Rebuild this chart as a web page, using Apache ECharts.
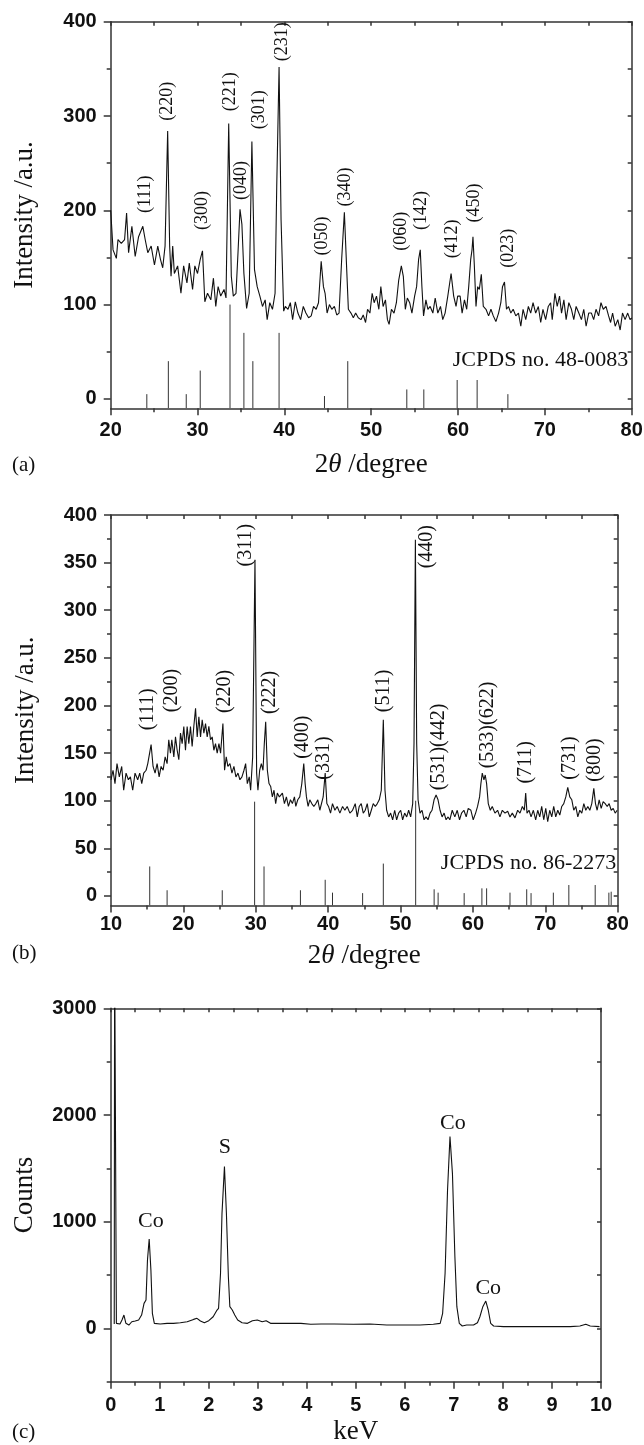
<!DOCTYPE html>
<html><head><meta charset="utf-8">
<script src="https://cdn.jsdelivr.net/npm/echarts@6/dist/echarts.min.js"></script>
<style>html,body{margin:0;padding:0;background:#fff}#c{width:644px;height:1445px}</style>
</head><body><div id="c"></div><script>
// ---------- Panel (a): XRD pattern, 2theta vs intensity ----------
const xrdA = [[20.00,200],[20.27,158],[20.65,149],[20.84,169],[21.22,165],[21.60,169],[21.83,197],[22.06,155],[22.44,183],[22.82,151],[23.21,172],[23.70,183],[23.97,169],[24.27,155],[24.66,162],[25.04,142],[25.42,162],[25.73,148],[25.99,139],[26.26,162],[26.56,284],[26.79,162],[26.95,130],[27.14,162],[27.33,133],[27.71,141],[28.09,112],[28.40,141],[28.78,123],[29.05,144],[29.43,116],[29.69,141],[30.00,133],[30.31,148],[30.57,157],[30.84,103],[31.15,112],[31.53,105],[31.83,128],[32.10,98],[32.37,119],[32.67,109],[33.05,116],[33.28,107],[33.59,292],[33.89,130],[34.12,109],[34.43,112],[34.66,155],[34.89,201],[35.11,185],[35.34,133],[35.65,96],[35.95,112],[36.26,273],[36.56,137],[36.87,119],[37.18,109],[37.48,98],[37.79,105],[38.02,84],[38.32,102],[38.63,95],[38.93,112],[39.12,225],[39.39,352],[39.62,190],[39.92,93],
[40.11,98],[40.42,95],[40.69,102],[40.95,84],[41.26,103],[41.56,91],[41.87,84],[42.18,98],[42.48,91],[42.79,86],[43.09,88],[43.36,98],[43.66,95],[43.93,102],[44.24,146],[44.50,119],[44.69,112],[44.92,91],[45.19,100],[45.46,95],[45.76,98],[46.03,89],[46.30,91],[46.60,148],[46.91,198],[47.18,137],[47.37,95],[47.67,91],[47.94,86],[48.21,91],[48.51,86],[48.82,84],[49.08,89],[49.35,81],[49.58,95],[49.85,91],[50.11,112],[50.34,102],[50.61,109],[50.88,95],[51.11,119],[51.37,98],[51.64,105],[51.87,84],[52.06,79],[52.33,95],[52.63,91],[52.90,102],[53.17,126],[53.47,141],[53.70,130],[53.93,95],[54.16,107],[54.43,102],[54.69,91],[55.00,109],[55.23,119],[55.46,148],[55.65,158],[55.84,119],[56.03,88],[56.30,105],[56.53,95],[56.79,98],[57.10,91],[57.37,107],[57.67,91],[57.98,98],[58.24,84],[58.51,91],[58.82,109],[59.20,133],[59.50,109],[59.77,98],[59.96,109],
[60.24,109],[60.47,91],[60.74,105],[61.00,95],[61.23,119],[61.46,148],[61.61,158],[61.72,172],[61.88,141],[62.07,98],[62.26,119],[62.45,116],[62.68,132],[62.91,98],[63.22,95],[63.52,88],[63.79,95],[64.06,88],[64.36,82],[64.67,91],[64.93,102],[65.12,119],[65.35,124],[65.58,95],[65.81,98],[66.08,91],[66.35,95],[66.65,88],[66.96,91],[67.23,77],[67.49,95],[67.80,84],[68.10,98],[68.37,91],[68.64,102],[68.94,91],[69.25,98],[69.52,81],[69.78,95],[70.09,84],[70.39,98],[70.66,102],[70.85,84],[71.16,112],[71.42,98],[71.69,109],[71.92,91],[72.19,105],[72.45,84],[72.76,102],[73.06,95],[73.33,84],[73.60,98],[73.91,91],[74.21,84],[74.48,95],[74.75,77],[75.05,91],[75.36,91],[75.62,84],[75.89,95],[76.19,88],[76.46,102],[76.73,95],[77.04,98],[77.34,88],[77.57,81],[77.80,91],[78.10,77],[78.40,84],[78.67,73],[78.94,91],[79.24,84],[79.54,91],[79.81,84],[80.00,86]];
const sticksA = [[24.16,5],[26.64,40],[28.70,5],[30.31,30],[33.74,100],[35.34,70],[36.37,40],[39.39,70],[44.62,3],[47.30,40],[54.10,10],[56.06,10],[59.90,20],[62.20,20],[65.74,5]];
const peaksA = [['(111)',24.03,197],['(220)',26.57,295],['(300)',30.55,179],['(221)',33.82,305],['(040)',35.09,211],['(301)',37.12,286],['(231)',39.81,358],['(050)',44.42,152],['(340)',46.99,204],['(060)',53.52,157],['(142)',55.82,179],['(412)',59.28,149],['(450)',61.86,187],['(023)',65.81,139]];
const refA = [['JCPDS no. 48-0083',79.6,41]];
const xTicksA = [20,30,40,50,60,70,80], xMinorA = [25,35,45,55,65,75];
const yTicksA = [0,100,200,300,400], yMinorA = [50,150,250,350];

// ---------- Panel (b) ----------
const xrdB = [[10.00,122],[10.28,132],[10.55,118],[10.83,139],[11.15,125],[11.48,136],[11.75,111],[12.08,129],[12.40,122],[12.68,125],[13.00,111],[13.32,129],[13.69,122],[13.97,129],[14.25,118],[14.52,129],[14.85,132],[15.08,139],[15.31,139],[15.54,159],[15.81,136],[16.09,129],[16.37,139],[16.65,125],[16.92,136],[17.20,132],[17.48,146],[17.75,139],[17.98,164],[18.21,150],[18.40,164],[18.68,146],[18.91,167],[19.14,153],[19.37,143],[19.60,171],[19.83,160],[20.06,178],[20.29,153],[20.52,178],[20.75,160],[20.98,178],[21.21,157],[21.44,178],[21.68,197],[21.91,167],[22.14,188],[22.37,167],[22.60,185],[22.83,171],[23.06,181],[23.29,167],[23.52,178],[23.75,164],[23.98,167],[24.21,153],[24.44,160],[24.67,150],[24.91,160],[25.14,150],[25.46,181],[25.69,132],[25.92,146],[26.15,136],[26.43,139],[26.71,129],[26.98,136],[27.26,125],[27.54,129],[27.81,122],[28.09,125],[28.37,132],[28.60,139],[28.83,118],[29.10,125],[29.29,111],[29.57,146],[29.89,353],[30.12,129],[30.30,111],[30.54,132],[30.77,139],[31.00,132],[31.18,160],[31.37,183],[31.60,132],[31.83,118],[32.06,115],[32.29,104],[32.52,111],[32.75,97],[32.98,108],[33.26,104],
[33.40,104],[33.68,108],[33.96,97],[34.23,104],[34.51,94],[34.79,101],[35.06,97],[35.34,104],[35.53,94],[35.80,101],[36.08,104],[36.36,118],[36.63,139],[36.82,118],[37.00,104],[37.23,94],[37.46,101],[37.74,97],[38.02,94],[38.30,97],[38.57,101],[38.85,90],[39.08,90],[39.31,104],[39.59,129],[39.82,97],[40.05,94],[40.33,87],[40.60,97],[40.93,90],[41.25,94],[41.62,87],[41.99,94],[42.31,90],[42.63,94],[43.00,87],[43.37,90],[43.74,97],[44.02,83],[44.29,94],[44.57,97],[44.85,87],[45.12,90],[45.40,97],[45.68,83],[45.96,90],[46.23,97],[46.51,94],[46.79,97],[47.06,101],[47.34,111],[47.62,185],[47.85,111],[48.08,90],[48.36,83],[48.63,87],[48.91,80],[49.19,90],[49.46,80],[49.74,87],[50.02,90],[50.29,80],[50.57,87],[50.85,83],[51.12,90],[51.40,83],[51.68,97],[51.86,160],[52.05,374],[52.23,160],[52.42,101],[52.69,87],[52.97,90],[53.25,80],[53.52,83],[53.80,80],[54.08,87],[54.35,90],[54.63,101],[54.91,106],[55.18,101],[55.46,90],[55.74,83],[56.02,87],[56.29,80],[56.57,83],
[56.81,80],[57.14,90],[57.50,83],[57.83,90],[58.15,80],[58.43,87],[58.75,90],[59.07,83],[59.35,92],[59.72,90],[60.04,80],[60.37,87],[60.64,94],[60.92,104],[61.10,118],[61.29,129],[61.52,122],[61.70,127],[61.89,118],[62.12,97],[62.40,90],[62.67,94],[63.04,87],[63.41,90],[63.73,83],[64.06,90],[64.43,87],[64.80,89],[65.12,83],[65.44,87],[65.81,82],[66.18,90],[66.50,87],[66.83,94],[67.10,90],[67.29,108],[67.47,87],[67.75,90],[68.03,83],[68.35,90],[68.67,80],[68.95,90],[69.23,83],[69.50,94],[69.78,80],[70.06,92],[70.33,78],[70.61,90],[70.89,83],[71.16,94],[71.44,83],[71.72,90],[72.00,85],[72.27,94],[72.55,97],[72.83,104],[73.10,114],[73.38,104],[73.66,101],[73.93,90],[74.21,94],[74.49,83],[74.76,90],[75.04,87],[75.32,97],[75.59,90],[75.87,94],[76.15,90],[76.42,97],[76.70,113],[76.93,97],[77.16,90],[77.44,101],[77.72,92],[77.99,99],[78.27,97],[78.55,94],[78.82,97],[79.10,90],[79.38,92],[79.65,87],[79.93,90]];
const sticksB = [[15.35,31],[17.75,6],[25.37,6],[29.84,99],[31.14,31],[36.17,6],[39.59,17],[40.60,3.5],[44.76,3],[47.62,34],[52.09,100],[54.64,7],[55.19,3.5],[58.79,3],[61.24,8],[61.89,8],[65.12,3.5],[67.43,7],[68.03,3],[71.11,3.5],[73.25,11.5],[76.89,11.5],[78.78,3.5],[79.10,4.5]];
const peaksB = [['(111)',15.09,174],['(200)',18.41,193],['(220)',25.65,192],['(311)',28.56,346],['(222)',31.93,191],['(400)',36.55,144],['(331)',39.40,122],['(511)',47.71,193],['(440)',53.62,344],['(531)(442)',55.33,111],['(533)(622)',62.03,134],['(711)',67.33,118],['(731)',73.33,122],['(800)',76.89,120]];
const refB = [['JCPDS no. 86-2273',79.8,34]];
const xTicksB = [10,20,30,40,50,60,70,80], xMinorB = [15,25,35,45,55,65,75];
const yTicksB = [0,50,100,150,200,250,300,350,400], yMinorB = [25,75,125,175,225,275,325,375];

// ---------- Panel (c): EDS spectrum ----------
const eds = [[0.072,40],[0.08,3600],[0.10,3600],[0.116,47],[0.137,31],[0.19,41],[0.23,78],[0.27,125],[0.31,47],[0.37,31],[0.43,62],[0.50,69],[0.57,78],[0.63,125],[0.68,234],[0.72,266],[0.75,640],[0.785,838],[0.82,547],[0.85,141],[0.89,47],[1.01,41],[1.15,47],[1.28,47],[1.42,53],[1.56,62],[1.69,84],[1.76,94],[1.83,69],[1.91,53],[2.00,72],[2.09,109],[2.16,166],[2.20,188],[2.24,516],[2.27,1078],[2.32,1516],[2.36,1078],[2.40,484],[2.43,203],[2.48,172],[2.53,125],[2.59,78],[2.68,53],[2.79,47],[2.89,72],[2.99,78],[3.09,62],[3.17,72],[3.26,47],[3.47,47],[3.67,47],[3.88,47],[4.08,38],[4.29,41],[4.56,41],[4.95,38],[5.29,41],[5.63,31],[5.97,31],[6.31,31],[6.58,38],[6.72,47],[6.77,141],[6.82,516],[6.87,1297],[6.92,1797],[6.97,1453],[7.02,672],[7.06,203],[7.11,47],[7.17,22],[7.26,31],[7.40,31],[7.48,53],[7.53,109],[7.59,203],[7.65,256],[7.70,172],[7.75,47],[7.81,22],[8.01,16],[8.35,16],[8.69,16],[9.03,16],[9.37,16],[9.57,22],[9.69,38],[9.78,22],[9.97,16]];
const edsPeaks = [['Co',0.82,1000],['S',2.33,1695],['Co',6.98,1922],['Co',7.70,375]];
const xTicksC = [0,1,2,3,4,5,6,7,8,9,10], xMinorC = [0.5,1.5,2.5,3.5,4.5,5.5,6.5,7.5,8.5,9.5];
const yTicksC = [0,1000,2000,3000], yMinorC = [-500,500,1500,2500];

// ---------- styling ----------
const SERIF = "'Liberation Serif','DejaVu Serif',serif";
const SANS = "'Liberation Sans',Arial,sans-serif";
const TXT = '#111', AXC = '#333';
const L = {color: AXC, width: 1.5};
const plain = v => String(v);

function allTicks(a, b){ return a.concat(b).sort((p,q)=>p-q); }

function xAxes(gi, min, max, major, minor, name, gap, margin){
  return [
    {type:'value', gridIndex:gi, min, max, position:'bottom', name, nameLocation:'middle', nameGap:gap, nameMoveOverlap:false,
     nameTextStyle:{fontFamily:SERIF, fontSize:27, color:TXT, rich:{i:{fontFamily:SERIF, fontSize:27, fontStyle:'italic', color:TXT}}},
     axisLine:{show:true, onZero:false, lineStyle:L}, axisTick:{show:true, inside:false, length:7, customValues:major, lineStyle:L},
     axisLabel:{show:true, customValues:major, formatter:plain, margin, fontFamily:SANS, fontWeight:'bold', fontSize:20, color:TXT}, splitLine:{show:false}},
    {type:'value', gridIndex:gi, min, max, position:'bottom', axisLine:{show:false, onZero:false},
     axisTick:{show:true, inside:false, length:4, customValues:minor, lineStyle:L}, axisLabel:{show:false}, splitLine:{show:false}},
    {type:'value', gridIndex:gi, min, max, position:'top', axisLine:{show:true, onZero:false, lineStyle:L},
     axisTick:{show:true, inside:true, length:4, customValues:allTicks(major, minor), lineStyle:L}, axisLabel:{show:false}, splitLine:{show:false}}
  ];
}
function yAxes(gi, min, max, major, minor, name, gap){
  return [
    {type:'value', gridIndex:gi, min, max, position:'left', name, nameLocation:'middle', nameGap:gap, nameMoveOverlap:false,
     nameTextStyle:{fontFamily:SERIF, fontSize:27, color:TXT},
     axisLine:{show:true, onZero:false, lineStyle:L}, axisTick:{show:true, inside:false, length:7, customValues:major, lineStyle:L},
     axisLabel:{show:true, customValues:major, formatter:plain, margin:14, fontFamily:SANS, fontWeight:'bold', fontSize:20, color:TXT}, splitLine:{show:false}},
    {type:'value', gridIndex:gi, min, max, position:'left', axisLine:{show:false, onZero:false},
     axisTick:{show:true, inside:false, length:4, customValues:minor, lineStyle:L}, axisLabel:{show:false}, splitLine:{show:false}},
    {type:'value', gridIndex:gi, min, max, position:'right', axisLine:{show:true, onZero:false, lineStyle:L},
     axisTick:{show:true, inside:true, length:4, customValues:allTicks(major, minor), lineStyle:L}, axisLabel:{show:false}, splitLine:{show:false}}
  ];
}
function curve(gi, data){
  return {type:'line', xAxisIndex:3*gi, yAxisIndex:3*gi, data, showSymbol:false, symbol:'none', silent:true, animation:false,
    clip:true, lineStyle:{color:'#111', width:1.1}};
}
function sticks(gi, data, base){
  return {type:'custom', xAxisIndex:3*gi, yAxisIndex:3*gi, data, silent:true, animation:false, clip:true,
    renderItem:function(params, api){
      const x = api.value(0), h = api.value(1);
      const p0 = api.coord([x, base]), p1 = api.coord([x, h]);
      return {type:'line', shape:{x1:p0[0], y1:p0[1], x2:p1[0], y2:p1[1]}, style:{stroke:'#333', lineWidth:1}};
    }};
}
function labels(gi, items, size, extra){
  return {type:'scatter', xAxisIndex:3*gi, yAxisIndex:3*gi, symbolSize:1, silent:true, animation:false,
    itemStyle:{color:'rgba(0,0,0,0)', opacity:1},
    data: items.map(d => ({name:d[0], value:[d[1], d[2]]})),
    label:Object.assign({show:true, position:'inside', formatter:p => p.name, fontFamily:SERIF, fontSize:size, color:TXT, opacity:1}, extra)};
}
const ROT = {rotate:90, align:'left', verticalAlign:'middle'};

const chart = echarts.init(document.getElementById('c'), null, {renderer:'canvas'});
chart.setOption({
  backgroundColor:'#fff',
  animation:false,
  grid:[
    {left:110.7, top:21.7, width:521, height:386.6, outerBoundsMode:'none'},
    {left:111, top:515, width:506.7, height:390.5, outerBoundsMode:'none'},
    {left:110.7, top:1008.3, width:490.3, height:373.4, outerBoundsMode:'none'}
  ],
  xAxis: [].concat(
    xAxes(0, 20, 80, xTicksA, xMinorA, '2{i|θ} /degree', 43, 12),
    xAxes(1, 10, 80, xTicksB, xMinorB, '2{i|θ} /degree', 37, 9),
    xAxes(2, 0, 10, xTicksC, xMinorC, 'keV', 37, 14)
  ),
  yAxis: [].concat(
    yAxes(0, -10, 400, yTicksA, yMinorA, 'Intensity /a.u.', 72),
    yAxes(1, -10, 400, yTicksB, yMinorB, 'Intensity /a.u.', 72),
    yAxes(2, -500, 3000, yTicksC, yMinorC, 'Counts', 72)
  ),
  graphic:[
    {type:'text', left:12, top:455, style:{text:'(a)', font:"21px 'Liberation Serif'", fill:TXT}},
    {type:'text', left:12, top:943, style:{text:'(b)', font:"21px 'Liberation Serif'", fill:TXT}},
    {type:'text', left:12, top:1422, style:{text:'(c)', font:"21px 'Liberation Serif'", fill:TXT}}
  ],
  series:[
    sticks(0, sticksA, -10),
    curve(0, xrdA),
    labels(0, peaksA, 18, ROT),
    labels(0, refA, 22, {align:'right', verticalAlign:'middle'}),
    sticks(1, sticksB, -10),
    curve(1, xrdB),
    labels(1, peaksB, 20, ROT),
    labels(1, refB, 22, {align:'right', verticalAlign:'middle'}),
    curve(2, eds),
    labels(2, edsPeaks, 22, {align:'center', verticalAlign:'middle'})
  ]
});
</script></body></html>
